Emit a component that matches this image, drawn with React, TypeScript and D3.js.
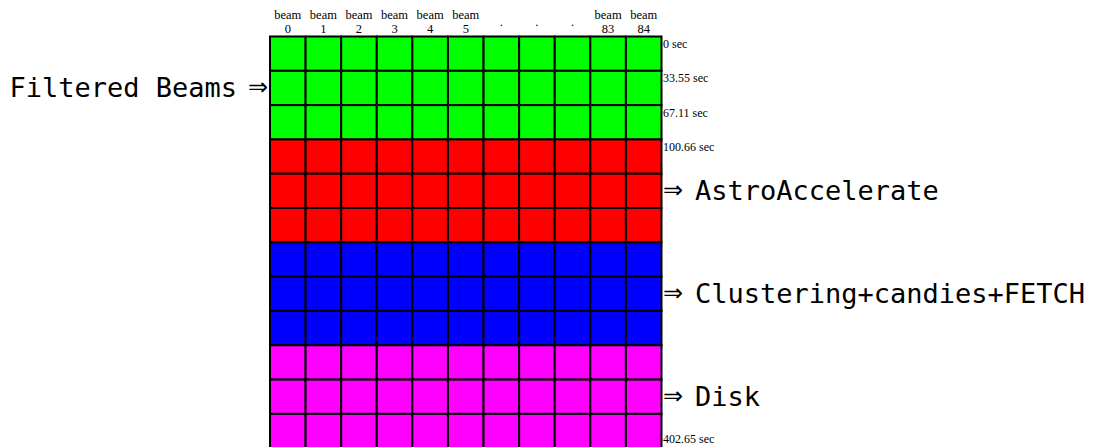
import React from "react";
import * as d3 from "d3";

// ---- data ----
const beamTop: string[] = ["beam", "beam", "beam", "beam", "beam", "beam", "", "", "", "beam", "beam"];
const beamBottom: string[] = ["0", "1", "2", "3", "4", "5", ".", ".", ".", "83", "84"];
const stages: string[] = ["Filtered Beams", "AstroAccelerate", "Clustering+candies+FETCH", "Disk"];
const stageColors: string[] = ["#00ff00", "#ff0000", "#0000ff", "#ff00ff"];
const rowsPerStage = 3;
const timeLabels: string[] = ["0 sec", "33.55 sec", "67.11 sec", "100.66 sec"];
const endLabel = "402.65 sec";

const W = 1094;
const H = 447;
const MONO = "'DejaVu Sans Mono', monospace";
const SERIF = "'Liberation Serif', 'Times New Roman', serif";

export default function App() {
  const nRows = stages.length * rowsPerStage;
  const cols = d3.range(beamBottom.length);
  const x = d3.scaleBand<number>().domain(cols).range([270, 661.5]).padding(0);
  const y = d3.scaleLinear().domain([0, nRows]).range([36.5, 448.2]);
  const rows = d3.range(nRows);
  const gridRight = x.range()[1];

  return (
    <svg
      width={W}
      height={H}
      style={{ position: "absolute", left: 0, top: 0, background: "#fff" }}
    >
      {/* header */}
      {cols.map((c) => (
        <g key={"h" + c}>
          {beamTop[c] && (
            <text x={x(c)! + x.bandwidth() / 2} y={19} textAnchor="middle" fontFamily={SERIF} fontSize={12.5} fill="#000">
              {beamTop[c]}
            </text>
          )}
          <text
            x={x(c)! + x.bandwidth() / 2}
            y={beamBottom[c] === "." ? 26 : 32.5}
            textAnchor="middle"
            fontFamily={SERIF}
            fontSize={12.5}
            fill="#000"
          >
            {beamBottom[c]}
          </text>
        </g>
      ))}

      {/* cells */}
      {rows.map((r) =>
        cols.map((c) => (
          <rect
            key={r + "-" + c}
            x={x(c)!}
            y={y(r)}
            width={x.bandwidth()}
            height={y(r + 1) - y(r)}
            fill={stageColors[Math.floor(r / rowsPerStage)]}
            stroke="#000"
            strokeWidth={2}
          />
        ))
      )}

      {/* time labels */}
      {timeLabels.map((t, i) => (
        <text key={"t" + i} x={gridRight + 1.5} y={y(i) + 11.5} fontFamily={SERIF} fontSize={12} fill="#000">
          {t}
        </text>
      ))}
      <text x={gridRight + 1.5} y={y(nRows) - 5} fontFamily={SERIF} fontSize={12} fill="#000">
        {endLabel}
      </text>

      {/* stage labels */}
      {stages.map((s, i) => {
        const mid = (y(i * rowsPerStage) + y((i + 1) * rowsPerStage)) / 2;
        if (i === 0) {
          return (
            <g key={"s" + i}>
              <text x={237} y={mid + 9.5} textAnchor="end" fontFamily={MONO} fontSize={27} fill="#000">
                {s}
              </text>
              <text x={268} y={mid + 7} textAnchor="end" fontFamily="'DejaVu Sans', sans-serif" fontSize={24} fill="#000">
                ⇒
              </text>
            </g>
          );
        }
        return (
          <g key={"s" + i}>
            <text x={gridRight + 1.5} y={mid + 7} fontFamily="'DejaVu Sans', sans-serif" fontSize={24} fill="#000">
              ⇒
            </text>
            <text x={695} y={mid + 9.5} fontFamily={MONO} fontSize={27} fill="#000">
              {s}
            </text>
          </g>
        );
      })}
    </svg>
  );
}
